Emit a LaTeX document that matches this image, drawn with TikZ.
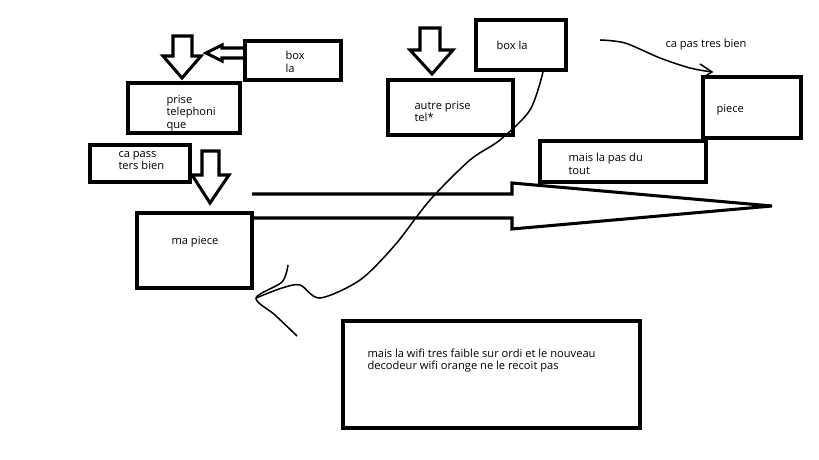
\documentclass[tikz,border=0pt]{standalone}
\usepackage{fontspec}
\setmainfont{Open Sans}
\begin{document}
\begin{tikzpicture}[x=0.03cm,y=-0.03cm,line width=2.6pt]
  \tikzset{box/.style={draw=black,line width=3.4pt},
           lab/.style={font=\fontsize{9.5}{10.5}\selectfont,anchor=north west,inner sep=0pt,align=left}}
  \useasboundingbox (0,0) rectangle (819,460);
  % boxes
  \draw[box] (245,41) rectangle (341,80);
  \node[lab] (boxa) at (284,50) {box\\la};
  \draw[box] (128,83) rectangle (240,133);
  \node[lab] (prise) at (165,94) {prise\\telephoni\\que};
  \draw[box] (90,145) rectangle (190,182);
  \node[lab] (pass) at (117,150) {ca pass\\ters bien};
  \draw[box] (137,213) rectangle (252,288);
  \node[lab] (ma) at (170,235) {ma piece};
  \draw[box] (388,80) rectangle (513,135);
  \node[lab] (autre) at (413,100) {autre prise\\tel*};
  \draw[box] (476,20) rectangle (566,70);
  \node[lab] (boxb) at (495,40) {box la};
  \draw[box] (703,77) rectangle (801,138);
  \node[lab] (piece) at (715,103) {piece};
  \draw[box] (540,141) rectangle (706,182);
  \node[lab] (tout) at (567,152) {mais la pas du\\tout};
  \draw[box] (343,321) rectangle (640,428);
  \node[lab] (wifi) at (366,347) {mais la wifi tres faible sur ordi et le nouveau\\decodeur wifi orange ne le recoit pas};
  \node[lab] (tres) at (664,38) {ca pas tres bien};
  % block arrows
  \draw (173,36) -- (192,36) -- (192,56) -- (201,56) -- (182,78) -- (163,56) -- (173,56) -- cycle;
  \draw (202,151) -- (219,151) -- (219,175) -- (229,175) -- (210,203) -- (192,175) -- (202,175) -- cycle;
  \draw (420,28) -- (440,28) -- (440,50) -- (453,50) -- (432,74) -- (410,50) -- (420,50) -- cycle;
  \draw (245,48) -- (222,48) -- (222,45) -- (206,53) -- (222,61) -- (222,58) -- (245,58);
  \draw (252,194) -- (512,194) -- (512,183) -- (772,206) -- (512,229) -- (512,218) -- (252,218);
  % freehand strokes
  \draw[line width=1.3pt] plot[smooth] coordinates {(600,40) (625,43) (660,58) (690,68) (712,72)};
  \draw[line width=1.3pt] (700,64) -- (712,72) -- (702,78);
  \draw[line width=1.3pt] plot[smooth] coordinates {(543,72) (530,110) (500,140) (470,160) (430,200) (395,245) (360,280) (320,298) (300,285) (282,288) (256,298)};
  \draw[line width=1.3pt] plot[smooth] coordinates {(288,265) (282,282) (256,298) (275,315) (297,336)};
\end{tikzpicture}
\end{document}
